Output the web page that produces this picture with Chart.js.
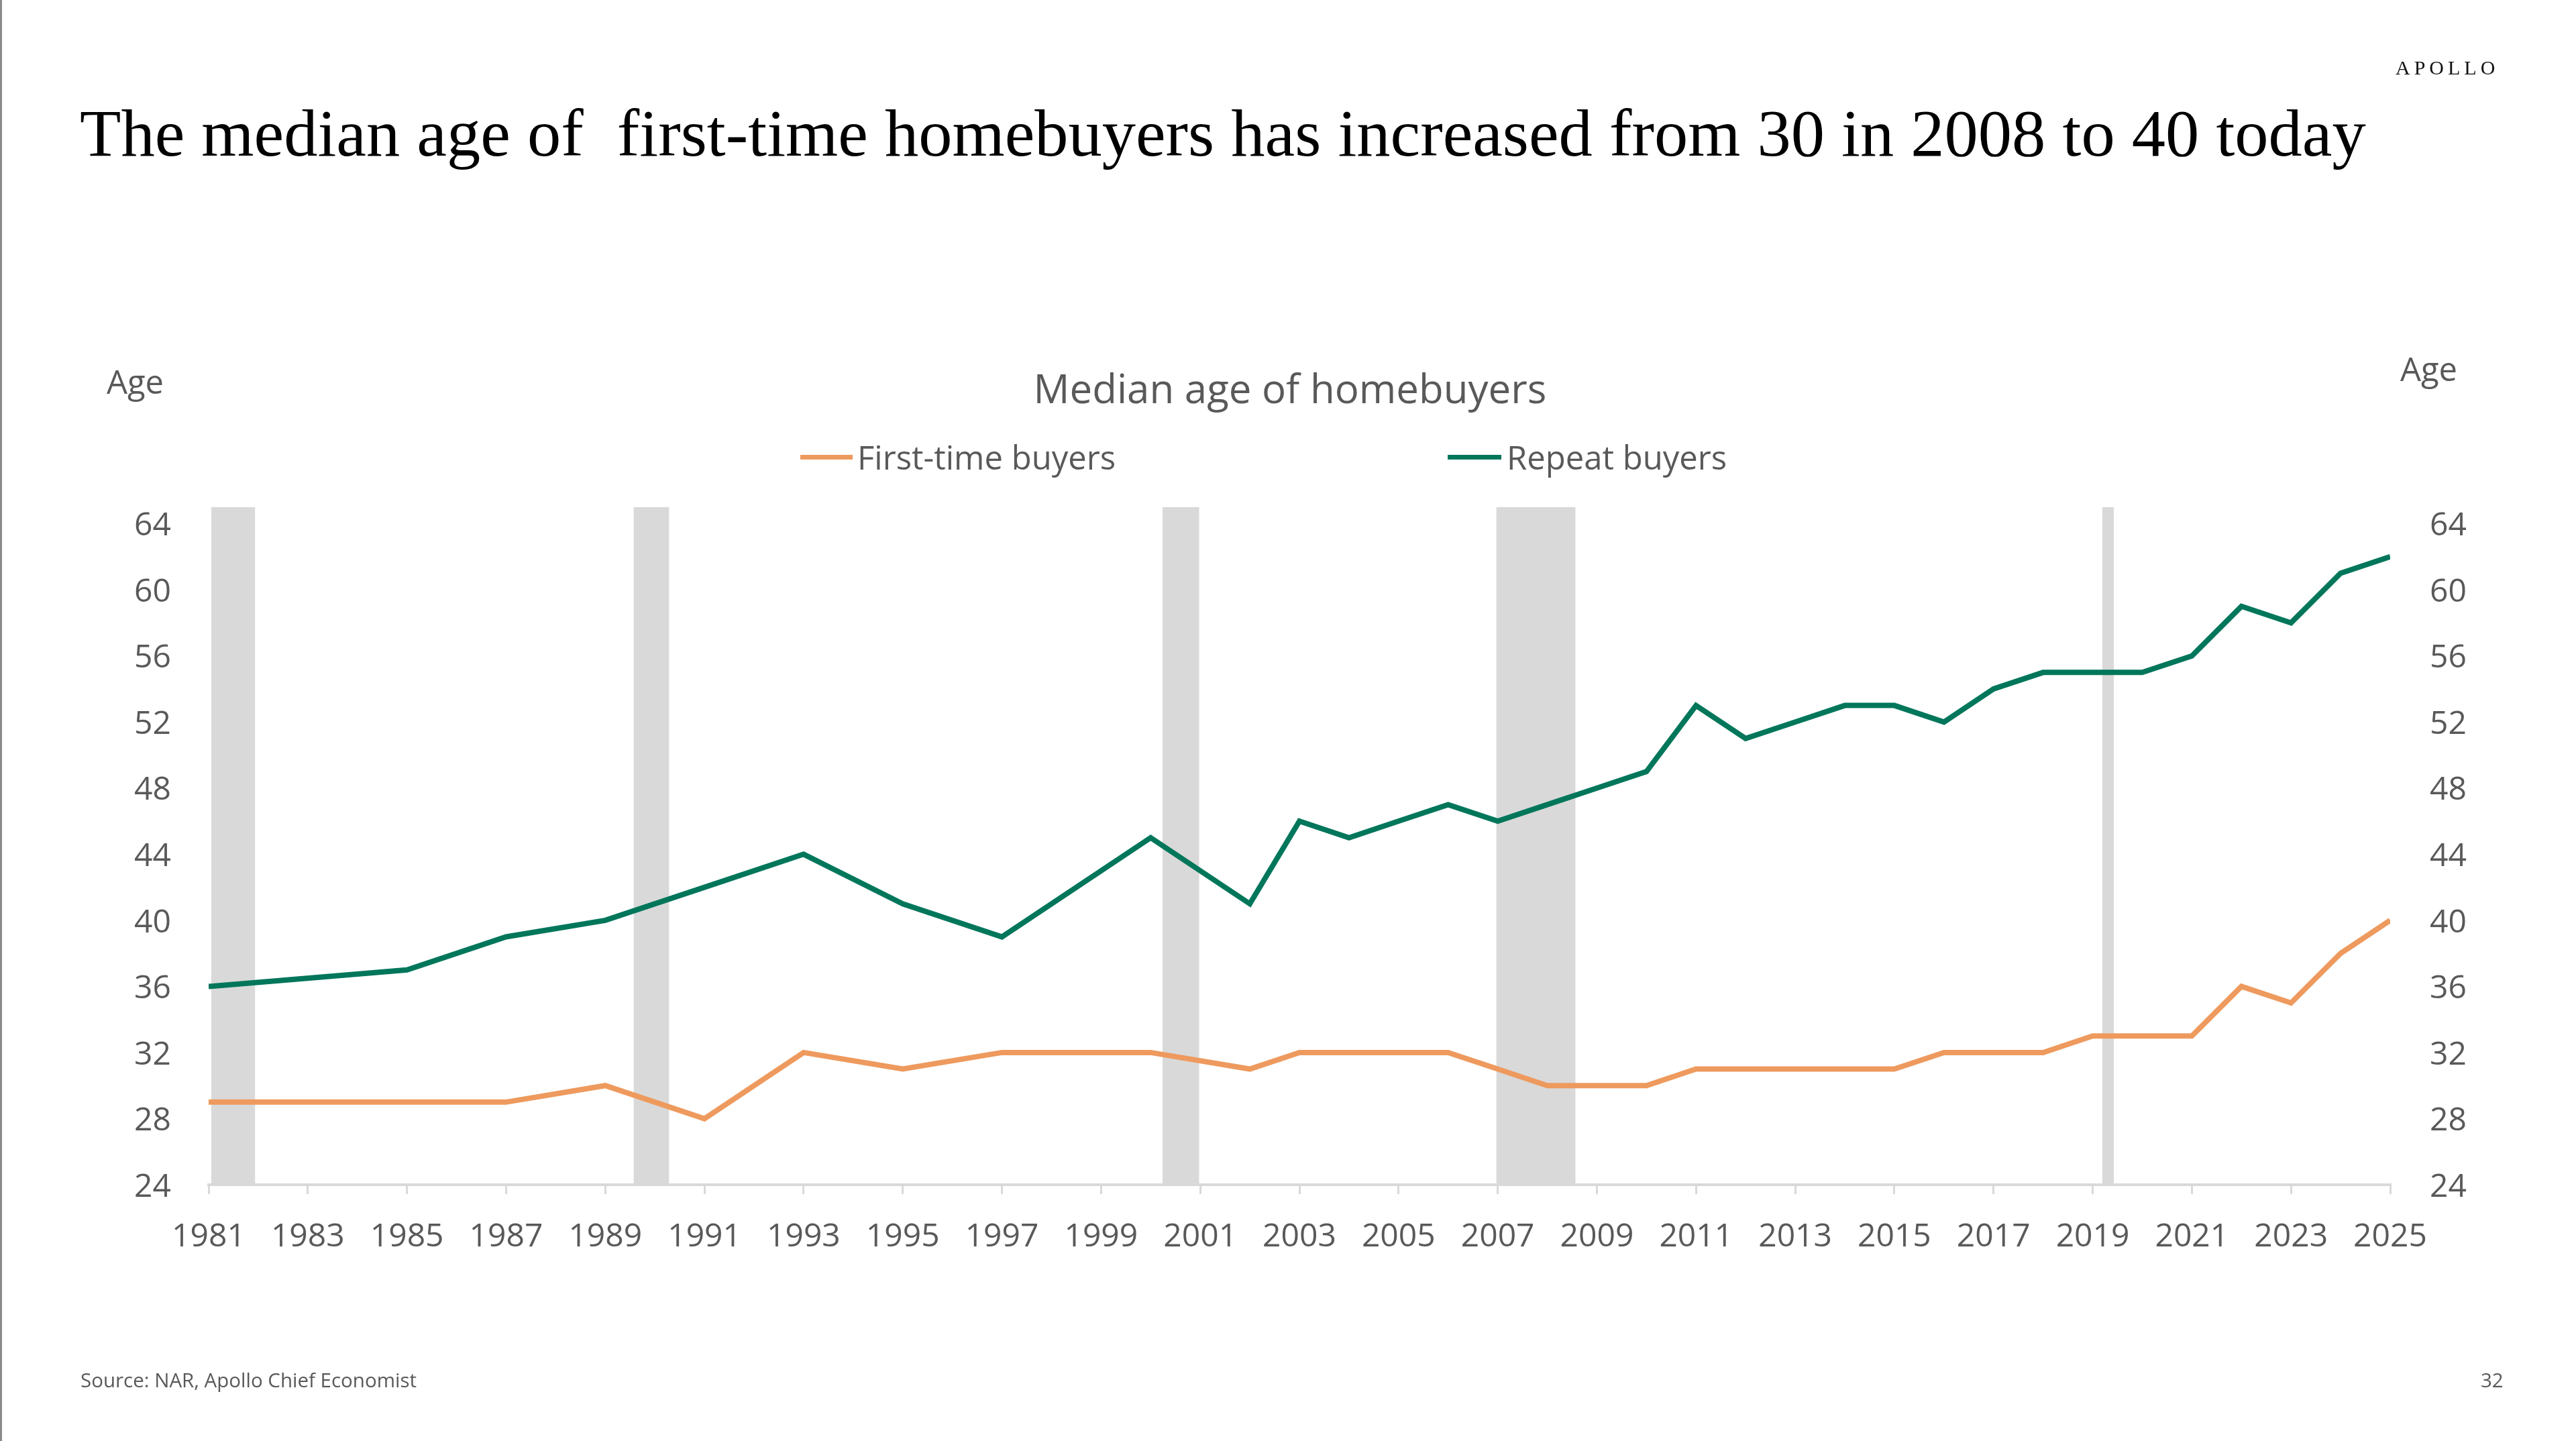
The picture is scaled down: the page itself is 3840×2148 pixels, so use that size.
<!DOCTYPE html>
<html>
<head>
<meta charset="utf-8">
<script src="https://cdn.jsdelivr.net/npm/chart.js@4/dist/chart.umd.min.js"></script>
<style>
  html, body { margin: 0; padding: 0; background: #ffffff; }
  body { width: 3840px; height: 2148px; position: relative; overflow: hidden; }
  #wrap { position: absolute; left: 0; top: 0; width: 3840px; height: 2148px; }
  .t { position: absolute; white-space: pre; }
  #border { position: absolute; left: 0; top: 0; width: 3px; height: 2148px; background: #8a8a8a; }
  .sans { font-family: "Open Sans", "Noto Sans", sans-serif; color: #595959; }
  .sw { position: absolute; height: 7px; }
</style>
</head>
<body>
<div id="wrap"><canvas id="c" width="3840" height="2148"></canvas></div>
<div id="border"></div>

<div class="t" style="left:3571px; top:84px; font-family:'Liberation Serif',serif; font-size:30px; letter-spacing:6px; color:#111;">APOLLO</div>
<div class="t" style="left:119px; top:148px; font-family:'Liberation Serif',serif; font-size:100.5px; line-height:100px; color:#000;">The median age of  first-time homebuyers has increased from 30 in 2008 to 40 today</div>

<div class="t sans" style="left:159px; top:540px; font-size:49px; line-height:56px;">Age</div>
<div class="t sans" style="left:3578px; top:521px; font-size:49px; line-height:56px;">Age</div>
<div class="t sans" style="left:1523px; top:544px; width:800px; text-align:center; font-size:60px; line-height:68px;">Median age of homebuyers</div>

<div class="sw" style="left:1193px; top:678px; width:78px; background:#EE9A5E;"></div>
<div class="t sans" style="left:1278px; top:653px; font-size:49px; line-height:56px;">First-time buyers</div>
<div class="sw" style="left:2158px; top:678px; width:80px; background:#00765A;"></div>
<div class="t sans" style="left:2246px; top:653px; font-size:49px; line-height:56px;">Repeat buyers</div>

<div class="t sans" style="left:120px; top:2040px; font-size:29.5px; line-height:34px; color:#595959;">Source: NAR, Apollo Chief Economist</div>
<div class="t sans" style="left:3698px; top:2040px; font-size:29.5px; line-height:34px; color:#595959;">32</div>

<script>
// ---- data ----
const years = [1981, 1985, 1987, 1989, 1991, 1993, 1995, 1997, 2000, 2002, 2003, 2004, 2005, 2006, 2007, 2008, 2009, 2010, 2011, 2012, 2013, 2014, 2015, 2016, 2017, 2018, 2019, 2020, 2021, 2022, 2023, 2024, 2025];
const firstTimeBuyers = [29, 29, 29, 30, 28, 32, 31, 32, 32, 31, 32, 32, 32, 32, 31, 30, 30, 30, 31, 31, 31, 31, 31, 32, 32, 32, 33, 33, 33, 36, 35, 38, 40];
const repeatBuyers = [36, 37, 39, 40, 42, 44, 41, 39, 45, 41, 46, 45, 46, 47, 46, 47, 48, 49, 53, 51, 52, 53, 53, 52, 54, 55, 55, 55, 56, 59, 58, 61, 62];
const recessionStart = [1981.05, 1989.57, 2000.24, 2006.97, 2019.19];
const recessionEnd = [1981.94, 1990.29, 2000.98, 2008.57, 2019.43];
const yTicks = [24, 28, 32, 36, 40, 44, 48, 52, 56, 60, 64];
const yMin = 24, yMax = 65;
const xMin = 1981, xMax = 2025, xStep = 2;

const GREEN = '#00765A', ORANGE = '#EE9A5E', GREY = '#D9D9D9', TXT = '#595959';
const FONT = { family: "'Open Sans', 'Noto Sans', sans-serif", size: 48 };

const recessionPts = [];
recessionStart.forEach((s, i) => {
  recessionPts.push({ x: s, y: yMax }, { x: recessionEnd[i], y: yMax }, { x: recessionEnd[i], y: null });
});

const lineStyle = { fill: false, pointRadius: 0, pointHoverRadius: 0, tension: 0, borderWidth: 8, borderJoinStyle: 'miter', borderCapStyle: 'butt', yAxisID: 'y' };

new Chart(document.getElementById('c'), {
  type: 'line',
  data: {
    datasets: [
      Object.assign({ label: 'Repeat buyers', data: years.map((x, i) => ({ x, y: repeatBuyers[i] })), borderColor: GREEN, backgroundColor: GREEN, order: 1 }, lineStyle),
      Object.assign({ label: 'First-time buyers', data: years.map((x, i) => ({ x, y: firstTimeBuyers[i] })), borderColor: ORANGE, backgroundColor: ORANGE, order: 2 }, lineStyle),
      { label: 'Recession', data: recessionPts, borderWidth: 0, borderColor: 'rgba(0,0,0,0)', backgroundColor: GREY, fill: 'start', pointRadius: 0, pointHoverRadius: 0, spanGaps: false, tension: 0, yAxisID: 'y', order: 10 }
    ]
  },
  options: {
    responsive: false,
    animation: false,
    devicePixelRatio: 1,
    layout: { padding: { top: 756, bottom: 262, left: 0, right: 0 } },
    plugins: { legend: { display: false }, title: { display: false }, tooltip: { enabled: false } },
    scales: {
      x: {
        type: 'linear', min: xMin, max: xMax,
        ticks: { stepSize: xStep, autoSkip: false, maxRotation: 0, color: TXT, font: FONT, padding: 36, callback: v => String(v) },
        grid: { drawOnChartArea: false, drawTicks: true, tickLength: 14, color: GREY, lineWidth: 3 },
        border: { display: true, color: GREY, width: 4 },
        afterFit: s => { s.height = 120; }
      },
      y: {
        position: 'left', min: yMin, max: yMax,
        afterBuildTicks: s => { s.ticks = yTicks.map(v => ({ value: v })); },
        ticks: { color: TXT, font: FONT, padding: 56, labelOffset: 4 },
        grid: { display: false, drawTicks: false },
        border: { display: false },
        afterFit: s => { s.width = 311; }
      },
      y2: {
        position: 'right', min: yMin, max: yMax,
        afterBuildTicks: s => { s.ticks = yTicks.map(v => ({ value: v })); },
        ticks: { color: TXT, font: FONT, padding: 59, labelOffset: 4 },
        grid: { display: false, drawTicks: false },
        border: { display: false },
        afterFit: s => { s.width = 277; }
      }
    }
  }
});
</script>
</body>
</html>
